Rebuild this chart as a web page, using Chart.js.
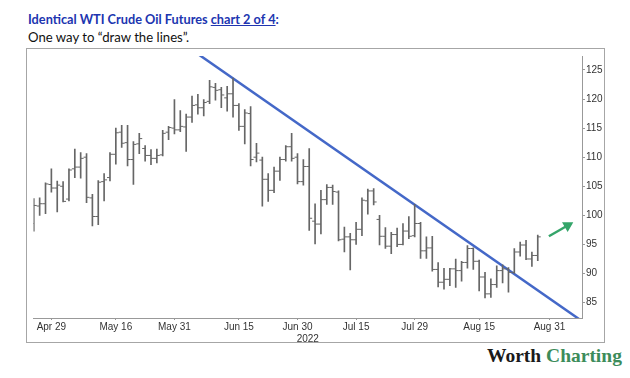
<!DOCTYPE html>
<html>
<head>
<meta charset="utf-8">
<script src="https://cdn.jsdelivr.net/npm/chart.js@4.4.1/dist/chart.umd.min.js"></script>
<style>
body { margin: 0; background: #fff; width: 630px; height: 378px; overflow: hidden; position: relative; font-family: Lato, "Liberation Sans", sans-serif; }
#t1 { position: absolute; left: 28px; top: 10px; font-size: 14px; font-weight: bold; color: #2035b0; white-space: nowrap; transform: scaleX(0.91); transform-origin: left; }
#t2 { position: absolute; left: 28px; top: 28px; font-size: 14px; color: #111; white-space: nowrap; transform: scaleX(0.94); transform-origin: left; }
#box { position: absolute; left: 26px; top: 48px; width: 577px; height: 293px; border: 1px solid #a6a6a6; }
#logo { position: absolute; left: 487px; top: 345px; font: bold 19.5px "Liberation Serif", serif; color: #1a1a1a; white-space: nowrap; }
#logo span { color: #3c8c5a; }
</style>
</head>
<body>
<div id="t1">Identical WTI Crude Oil Futures <u>chart 2 of 4</u>:</div>
<div id="t2">One way to “draw the lines”.</div>
<div id="box"><canvas id="chart"></canvas></div>
<div id="logo">Worth <span>Charting</span></div>
<script>
// trading days, Apr 26 - Aug 31 2022 (last two have no bar)
const dates = [
    'Apr 26', 'Apr 27', 'Apr 28', 'Apr 29',
    'May 2', 'May 3', 'May 4', 'May 5', 'May 6',
    'May 9', 'May 10', 'May 11', 'May 12', 'May 13',
    'May 16', 'May 17', 'May 18', 'May 19', 'May 20',
    'May 23', 'May 24', 'May 25', 'May 26', 'May 27',
    'May 31', 'Jun 1', 'Jun 2', 'Jun 3',
    'Jun 6', 'Jun 7', 'Jun 8', 'Jun 9', 'Jun 10',
    'Jun 13', 'Jun 14', 'Jun 15', 'Jun 16', 'Jun 17',
    'Jun 21', 'Jun 22', 'Jun 23', 'Jun 24',
    'Jun 27', 'Jun 28', 'Jun 29', 'Jun 30', 'Jul 1',
    'Jul 5', 'Jul 6', 'Jul 7', 'Jul 8',
    'Jul 11', 'Jul 12', 'Jul 13', 'Jul 14', 'Jul 15',
    'Jul 18', 'Jul 19', 'Jul 20', 'Jul 21', 'Jul 22',
    'Jul 25', 'Jul 26', 'Jul 27', 'Jul 28', 'Jul 29',
    'Aug 1', 'Aug 2', 'Aug 3', 'Aug 4', 'Aug 5',
    'Aug 8', 'Aug 9', 'Aug 10', 'Aug 11', 'Aug 12',
    'Aug 15', 'Aug 16', 'Aug 17', 'Aug 18', 'Aug 19',
    'Aug 22', 'Aug 23', 'Aug 24', 'Aug 25', 'Aug 26',
    'Aug 29', 'Aug 30', 'Aug 31'
];

const opens = [
    98.6, 101.6, 102.0, 105.3,
    104.7, 105.0, 102.8, 108.0, 108.3,
    110.0, 103.0, 99.8, 105.8, 106.5,
    110.5, 114.3, 112.5, 109.6, 112.3,
    111.5, 110.3, 109.8, 110.4, 114.3,
    115.0, 114.7, 115.2, 116.9,
    119.0, 118.5, 119.6, 122.0, 121.6,
    120.2, 120.9, 118.9, 115.3, 117.5,
    110.0, 109.5, 106.2, 104.3,
    107.6, 109.6, 111.8, 110.0, 105.8,
    108.4, 99.0, 98.5, 102.7,
    104.8, 104.0, 95.9, 96.3, 95.8,
    97.6, 102.5, 104.2, 99.3, 96.4,
    94.7, 96.7, 95.0, 97.3, 96.5,
    98.6, 93.9, 94.4, 90.7, 88.5,
    89.0, 90.8, 90.5, 91.9, 94.3,
    92.1, 89.4, 86.5, 88.1, 90.5,
    90.8, 90.2, 93.7, 94.9, 92.5,
    93.1
];

const highs = [
    102.9, 103.0, 105.6, 108.0,
    105.9, 105.8, 108.0, 111.4, 110.8,
    110.6, 103.6, 106.0, 107.2, 110.8,
    115.0, 115.5, 115.5, 112.7, 114.1,
    112.0, 111.3, 111.4, 114.6, 115.3,
    119.9, 118.0, 117.4, 120.5,
    120.8, 119.9, 123.2, 122.7, 122.0,
    122.2, 123.6, 119.2, 118.2, 118.7,
    112.4, 110.0, 107.2, 108.3,
    110.0, 112.0, 114.1, 110.6, 109.6,
    111.5, 102.0, 104.3, 105.3,
    105.2, 104.2, 98.0, 96.9, 98.8,
    103.0, 104.5, 104.6, 100.0, 97.9,
    97.1, 97.8, 98.6, 99.8, 101.9,
    98.8, 96.3, 96.4, 91.9, 90.9,
    90.9, 92.5, 92.1, 94.8, 94.4,
    92.3, 90.2, 89.1, 91.3, 91.5,
    91.0, 94.3, 95.4, 95.7, 93.7,
    96.6
];

const lows = [
    97.3, 100.0, 100.3, 104.0,
    100.6, 102.3, 102.5, 106.5, 106.4,
    102.2, 98.2, 98.4, 102.5, 105.9,
    108.8, 111.7, 108.5, 105.3, 110.6,
    109.3, 108.7, 109.0, 110.2, 113.0,
    114.0, 114.4, 111.0, 116.0,
    117.4, 117.1, 119.2, 119.8, 118.5,
    117.9, 116.9, 114.6, 112.3, 108.5,
    109.2, 101.6, 102.4, 103.9,
    106.0, 109.3, 109.3, 105.4, 105.2,
    97.4, 95.1, 96.8, 101.9,
    101.9, 95.6, 93.7, 90.6, 95.0,
    96.5, 100.2, 101.8, 94.9, 94.3,
    93.4, 94.6, 94.9, 96.0, 96.3,
    92.6, 92.6, 90.4, 87.7, 87.3,
    87.9, 87.6, 88.7, 90.9, 90.7,
    87.0, 85.8, 85.9, 87.6, 88.4,
    86.8, 90.0, 93.0, 92.4, 91.2,
    92.2
];

const closes = [
    101.7, 102.0, 105.4, 104.7,
    105.2, 102.4, 107.8, 108.3, 109.8,
    103.1, 99.8, 105.7, 106.1, 110.5,
    114.2, 112.4, 109.6, 112.2, 113.2,
    110.3, 109.8, 110.3, 114.1, 115.1,
    114.7, 115.3, 116.9, 118.9,
    118.5, 119.4, 122.1, 121.5, 120.7,
    120.9, 118.9, 115.3, 117.6, 109.6,
    110.7, 106.2, 104.3, 107.6,
    109.6, 111.8, 109.8, 105.8, 108.4,
    99.5, 98.5, 102.7, 104.8,
    104.1, 95.8, 96.3, 95.8, 97.6,
    102.6, 104.2, 102.3, 96.4, 94.7,
    96.7, 95.0, 97.3, 96.4, 98.6,
    93.9, 94.4, 90.7, 88.5, 89.0,
    90.8, 90.5, 91.9, 94.3, 92.1,
    89.4, 86.5, 88.1, 90.5, 90.8,
    90.2, 93.7, 94.9, 92.5, 93.1,
    96.3
];

const tickDates = ['Apr 29', 'May 16', 'May 31', 'Jun 15', 'Jun 30', 'Jul 15', 'Jul 29', 'Aug 15', 'Aug 31'];
const yTicks = [85, 90, 95, 100, 105, 110, 115, 120, 125];

// hand-drawn trend line and arrow, in (day index, price)
const trendLine = [{x: 26.5, y: 128.8}, {x: 95, y: 80.8}];
const arrow = [{x: 87.9, y: 96.4}, {x: 91.1, y: 98.25}];

const barColor = "#666";

Chart.defaults.font.family = "'Liberation Sans', sans-serif";
Chart.defaults.font.size = 10;
Chart.defaults.color = "#333";

const hiLo = highs.map((h, i) => ({x: i, y: [lows[i], h]}));
const openPts = opens.map((o, i) => ({x: i - 0.25, y: o}));
const closePts = closes.map((c, i) => ({x: i + 0.25, y: c}));

const chart = new Chart("chart", {
    type: "bar",
    data: {
        datasets: [{
            data: hiLo,
            backgroundColor: barColor,
            barThickness: 1,
            grouped: false
        }, {
            type: "line",
            data: openPts,
            showLine: false,
            pointStyle: "line",
            pointRadius: 1.5,
            pointBorderWidth: 1,
            pointBorderColor: barColor
        }, {
            type: "line",
            data: closePts,
            showLine: false,
            pointStyle: "line",
            pointRadius: 1.5,
            pointBorderWidth: 1,
            pointBorderColor: barColor
        }, {
            type: "line",
            data: trendLine,
            borderColor: "#4468c8",
            borderWidth: 2.5,
            pointRadius: 0,
            clip: 0
        }, {
            type: "line",
            data: arrow,
            borderColor: "#35a56a",
            borderWidth: 2.5,
            pointRadius: [0, 4],
            pointStyle: "triangle",
            pointRotation: 60,
            pointBackgroundColor: "#35a56a",
            pointBorderColor: "#35a56a"
        }]
    },
    options: {
        animation: false,
        responsive: true,
        maintainAspectRatio: false,
        layout: { padding: 0 },
        scales: {
            x: {
                type: "linear",
                min: -0.05,
                max: 93.55,
                offset: false,
                grid: {
                    offset: false,
                    drawOnChartArea: false,
                    tickLength: 2,
                    color: "#999"
                },
                border: { color: "#999" },
                ticks: {
                    autoSkip: false,
                    maxRotation: 0,
                    padding: 1,
                    callback: (v, i) => tickDates[i]
                },
                afterBuildTicks: s => {
                    s.ticks = tickDates.map(d => ({value: dates.indexOf(d)}));
                },
                afterFit: s => { s.height = 24; },
                title: {
                    display: true,
                    text: "2022",
                    padding: {top: 0, bottom: -3}
                }
            },
            y: {
                position: "right",
                min: 82.35,
                max: 127.4,
                beginAtZero: false,
                grid: {
                    drawOnChartArea: false,
                    tickLength: 3,
                    color: "#999"
                },
                border: { color: "#999" },
                ticks: { padding: 1 },
                afterBuildTicks: s => {
                    s.ticks = yTicks.map(v => ({value: v}));
                },
                afterFit: s => { s.width = 22; }
            }
        },
        plugins: {
            legend: { display: false },
            tooltip: { enabled: false }
        }
    }
})
</script>
</body>
</html>
